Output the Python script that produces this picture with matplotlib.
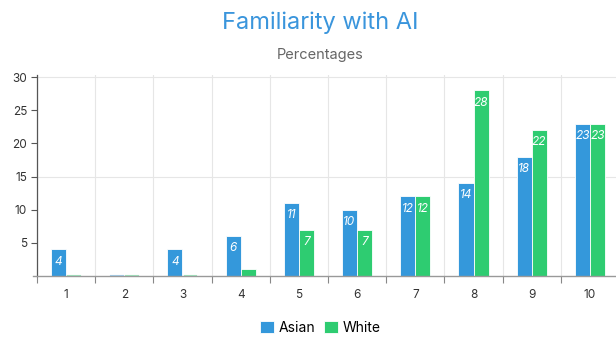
import numpy as np
import matplotlib.pyplot as plt

plt.rcParams['font.family'] = ['Inter', 'DejaVu Sans']

categories = ['1', '2', '3', '4', '5', '6', '7', '8', '9', '10']
asian = [4, 0, 4, 6, 11, 10, 12, 14, 18, 23]
white = [0, 0, 0, 1, 7, 7, 12, 28, 22, 23]

blue = '#3498db'
green = '#2ecc71'

fig = plt.figure(figsize=(6.16, 3.37), dpi=100)
ax = fig.add_axes([0.060, 0.181, 0.945, 0.596])

x = np.arange(len(categories))
w = 0.26
b1 = ax.bar(x - w / 2, asian, w, color=blue, edgecolor='white', linewidth=0.6, label='Asian')
b2 = ax.bar(x + w / 2, white, w, color=green, edgecolor='white', linewidth=0.6, label='White')

# zero-height bars still show as a thin coloured line
for xs, vals, c in [(x - w / 2, asian, blue), (x + w / 2, white, green)]:
    for xi, v in zip(xs, vals):
        if v == 0:
            ax.plot([xi - w / 2 + 0.02, xi + w / 2 - 0.02], [0.12, 0.12], color=c, lw=0.8, alpha=0.45)

for bars, vals in [(b1, asian), (b2, white)]:
    for r, v in zip(bars, vals):
        if v >= 3:
            ax.annotate(str(v), (r.get_x() + r.get_width() / 2, v), xytext=(0, -4.5),
                        textcoords='offset points', ha='center', va='top',
                        color='white', fontsize=8.5, style='italic')

ax.set_xlim(-0.5, len(categories) - 0.5)
ax.set_ylim(0, 30.3)
ax.set_yticks([5, 10, 15, 20, 25, 30])
ax.set_xticks(x)
ax.set_xticklabels(categories)
ax.set_xticks(np.arange(-0.5, len(categories)), minor=True)
ax.tick_params(axis='x', which='major', length=0, pad=9, labelsize=8.5, colors='#333333')
ax.tick_params(axis='x', which='minor', length=5, color='#888888', width=0.8)
ax.tick_params(axis='y', length=4, color='#555555', width=0.8, labelsize=8.5, labelcolor='#333333', pad=3)

ax.grid(axis='x', which='minor', color='#e6e6e6', lw=0.8)
for gy in [15, 30]:
    ax.axhline(gy, color='#e6e6e6', lw=0.8, zorder=0)
ax.set_axisbelow(True)

for s in ['top', 'right']:
    ax.spines[s].set_visible(False)
ax.spines['left'].set_color('#555555')
ax.spines['left'].set_linewidth(0.9)
ax.spines['bottom'].set_color('#999999')
ax.spines['bottom'].set_linewidth(1.0)
ax.spines['bottom'].set_bounds(-0.57, len(categories) - 0.5)

fig.text(0.52, 0.932, 'Familiarity with AI', ha='center', va='center', fontsize=17, color='#3a95dc')
fig.text(0.52, 0.838, 'Percentages', ha='center', va='center', fontsize=10.5, color='#666666')

fig.legend(handles=[b1, b2], loc='center', bbox_to_anchor=(0.52, 0.028), ncol=2, frameon=False,
           fontsize=10, handlelength=1.0, handleheight=1.0, handletextpad=0.35, columnspacing=0.6)

fig.savefig('out.png', dpi=100)
